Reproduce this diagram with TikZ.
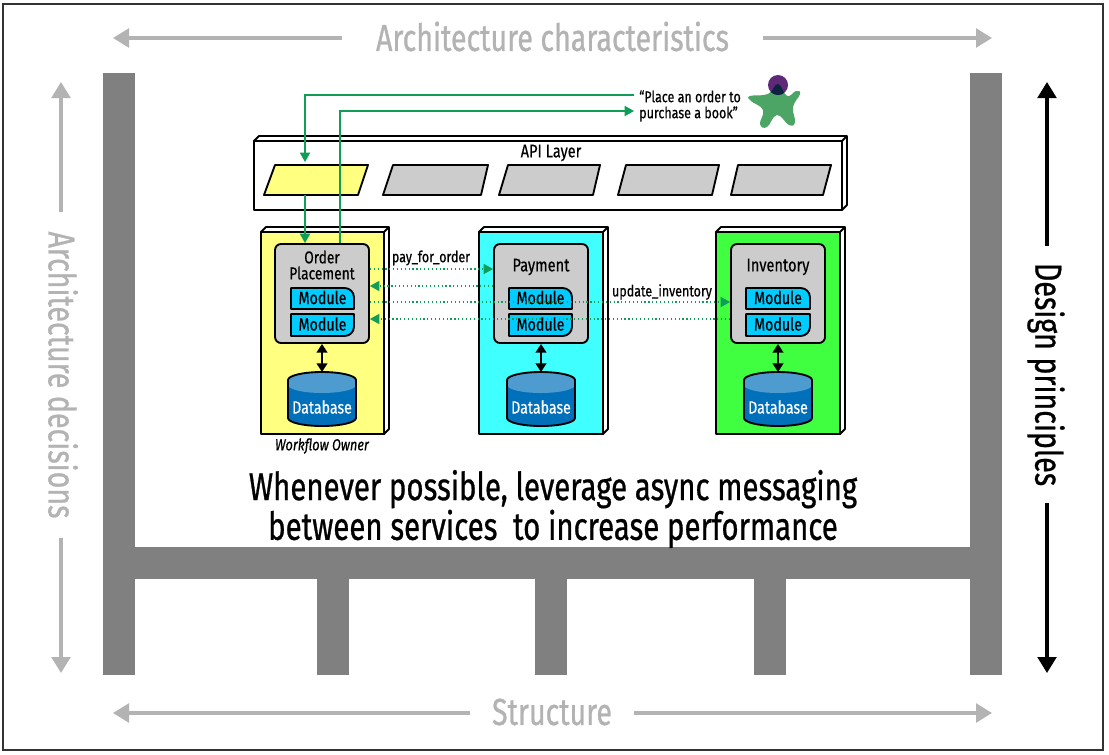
\documentclass[tikz,border=0pt]{standalone}
\usepackage{fontspec}
\usetikzlibrary{arrows.meta}
\setmainfont{Fira Sans}
\newfontfamily\cond[FakeStretch=0.8,FakeBold=0.5]{Fira Sans}
\newfontfamily\condbig[FakeStretch=0.76,FakeBold=0.7]{Fira Sans}
\newfontfamily\condi[FakeStretch=0.8,FakeBold=0.5]{Fira Sans Italic}
\definecolor{cgray}{HTML}{B3B3B3}
\definecolor{cstruct}{HTML}{808080}
\definecolor{cbox}{HTML}{CCCCCC}
\definecolor{cyel}{HTML}{FFFF80}
\definecolor{ccya}{HTML}{40FFFF}
\definecolor{cgre}{HTML}{40FF40}
\definecolor{cmod}{HTML}{00CCFF}
\definecolor{cflow}{HTML}{0F9D58}
\definecolor{cdb}{HTML}{0070BB}
\definecolor{cdbt}{HTML}{4D9BCF}
\definecolor{cperson}{HTML}{4CA564}
\definecolor{chead}{HTML}{5E2A78}
\definecolor{cneck}{HTML}{0B2340}
\tikzset{
  x=.75pt,y=-.75pt,
  edge/.style={draw=black,line width=1.4pt,line join=round},
  bigtxt/.style={inner sep=0pt,font=\condbig\fontsize{28.2}{28}\selectfont,align=center},
  garrow/.style={draw=cgray,line width=2.6pt,-{Triangle[length=12pt,width=14pt]}},
  karrow/.style={draw=black,line width=2.4pt,-{Triangle[length=12pt,width=14pt]}},
  flow/.style={draw=cflow,line width=1.3pt,-{Triangle[length=7pt,width=7.5pt]}},
  dflow/.style={draw=cflow,line width=.9pt,dotted,-{Triangle[length=7pt,width=7.5pt]}},
  dbarrow/.style={draw=black,line width=1.4pt,{Triangle[length=6.5pt,width=8pt]}-{Triangle[length=6.5pt,width=8pt]}},
  txt/.style={inner sep=0pt,font=\cond\fontsize{13.7}{12}\selectfont,align=center},
  small/.style={inner sep=0pt,font=\cond\fontsize{11.7}{12}\selectfont,align=center},
  modtxt/.style={inner sep=0pt,font=\cond\fontsize{13.3}{14}\selectfont},
  inner/.style={draw=black,line width=1.4pt,fill=cbox,rounded corners=4.5pt,minimum width=70.5pt,minimum height=74.25pt,inner sep=0pt},
  ghost/.style={inner sep=0pt,outer sep=0pt},
}
% x1 y1 x2 y2 fill depth
\newcommand\threed[6]{%
  \draw[edge,fill=white] (#1,#2) -- (#1+#6,#2-#6) -- (#3+#6,#2-#6) -- (#3+#6,#4-#6) -- (#3,#4) -- (#3,#2) -- cycle;
  \draw[edge] (#3,#2) -- (#3+#6,#2-#6);
  \draw[edge,fill=#5] (#1,#2) rectangle (#3,#4);
}
% name x1 x2 y1 y2 text
\newcommand\modup[6]{%
  \draw[edge,fill=cmod] (#2,#4) [rounded corners=7pt] -- (#3,#4) [sharp corners] -- (#3,#5) -- (#2,#5) -- cycle;
  \node[modtxt] (#1) at ({(#2+#3)/2},{(#4+#5)/2-1}) {#6};
}
\newcommand\moddown[6]{%
  \draw[edge,fill=cmod] (#2,#4) -- (#3,#4) [rounded corners=7pt] -- (#3,#5) [sharp corners] -- (#2,#5) -- cycle;
  \node[modtxt] (#1) at ({(#2+#3)/2},{(#4+#5)/2-1}) {#6};
}
% name cx
\newcommand\dbase[2]{%
  \fill[cdb] (#2-34,380) -- (#2-34,418) arc[start angle=180,end angle=0,x radius=34,y radius=8] -- (#2+34,380) -- cycle;
  \fill[cdbt] (#2-34,380) arc[start angle=180,end angle=360,x radius=34,y radius=8] -- (#2+34,385) arc[start angle=0,end angle=180,x radius=34,y radius=8] -- cycle;
  \draw[edge] (#2-34,418) -- (#2-34,380) arc[start angle=180,end angle=360,x radius=34,y radius=8] -- (#2+34,418) arc[start angle=0,end angle=180,x radius=34,y radius=8];
  \node[modtxt,text=white] (#1) at (#2,407) {Database};
}
\newcommand\personpath{plot[smooth cycle,tension=.75] coordinates {(778,84) (787,96) (796,91) (800,94) (793,107) (795,122) (789,125) (777,115) (767,127) (760,124) (763,110) (751,101) (750,96) (768,94)}}
\begin{document}
\begin{tikzpicture}
\useasboundingbox (0,0) rectangle (1109,754);
\fill[white] (0,0) rectangle (1109,754);
\draw[black!80,line width=.9pt] (3,4) rectangle (1103,750);
% structure
\fill[cstruct] (103,73) rectangle (135,675);
\fill[cstruct] (970,73) rectangle (1002,675);
\fill[cstruct] (135,547) rectangle (970,579);
\fill[cstruct] (317,579) rectangle (349,675);
\fill[cstruct] (535,579) rectangle (567,675);
\fill[cstruct] (754,579) rectangle (786,675);
% outer labels and arrows
\node[bigtxt,text=cgray,minimum width=315.75pt] (chars) at (552.5,36.5) {Architecture characteristics};
\node[bigtxt,text=cgray,minimum width=123pt] (struct) at (552,712) {Structure};
\node[bigtxt,text=cgray,minimum width=244.5pt,rotate=-90] (decis) at (63,375) {Architecture decisions};
\node[bigtxt,text=black,minimum width=192.75pt,rotate=-90] (princ) at (1046,374.5) {Design principles};
\coordinate (cl) at (113,38); \coordinate (cr) at (992,38);
\coordinate (sl) at (113,713); \coordinate (sr) at (992,713);
\coordinate (dt) at (61,82); \coordinate (db) at (61,673);
\coordinate (pt) at (1047,82); \coordinate (pb) at (1047,673);
\draw[garrow] (chars.west |- cl) -- (cl);
\draw[garrow] (chars.east |- cr) -- (cr);
\draw[garrow] (struct.west |- sl) -- (sl);
\draw[garrow] (struct.east |- sr) -- (sr);
\draw[garrow] (decis.west -| dt) -- (dt);
\draw[garrow] (decis.east -| db) -- (db);
\draw[karrow] (princ.west -| pt) -- (pt);
\draw[karrow] (princ.east -| pb) -- (pb);
% API layer
\threed{254}{141}{842}{210}{white}{5}
\node[txt] (api) at (551,153) {API Layer};
\node[ghost,minimum width=78pt,minimum height=22.5pt] (yel) at (316,180) {};
\draw[edge,fill=cyel] (264,195) -- (358,195) -- (368,165) -- (275,165) -- cycle;
\draw[edge,fill=cbox] (383,195) -- (481,195) -- (488,165) -- (393,165) -- cycle;
\draw[edge,fill=cbox] (499,195) -- (593,195) -- (600,165) -- (508,165) -- cycle;
\draw[edge,fill=cbox] (618,195) -- (712,195) -- (719,165) -- (626,165) -- cycle;
\draw[edge,fill=cbox] (731,195) -- (823,195) -- (831,165) -- (738,165) -- cycle;
% services
\threed{261}{232}{384}{434}{cyel}{5}
\threed{479}{232}{603}{434}{ccya}{5}
\threed{716}{232}{840}{434}{cgre}{5}
\node[inner] (oin) at (322,293.5) {};
\node[inner] (pin) at (541,293.5) {};
\node[inner] (iin) at (778,293.5) {};
\node[txt,font=\cond\fontsize{12.9}{12}\selectfont] (ol) at (322,265) {Order\\Placement};
\node[txt] (pl) at (541,267) {Payment};
\node[txt] (il) at (778,267) {Inventory};
\modup{m1}{291}{354}{288}{309}{Module}
\moddown{m2}{291}{354}{314}{336}{Module}
\modup{m3}{509}{572}{288}{309}{Module}
\moddown{m4}{509}{572}{314}{336}{Module}
\modup{m5}{746}{810}{288}{309}{Module}
\moddown{m6}{746}{810}{314}{336}{Module}
\dbase{d1}{322}
\dbase{d2}{541}
\dbase{d3}{778}
\coordinate (t1) at (322,372);\coordinate (t2) at (541,372);\coordinate (t3) at (778,372);
\draw[dbarrow] (oin.south) -- (t1);
\draw[dbarrow] (pin.south) -- (t2);
\draw[dbarrow] (iin.south) -- (t3);
\node[small,font=\condi\fontsize{12}{12}\selectfont] (wf) at (322,446) {Workflow Owner};
% flows
\coordinate (q1) at (634,95); \coordinate (q2) at (634,111);
\coordinate (xa) at (305,162); \coordinate (xb) at (340,0);
\draw[flow] (q1) -| (xa);
\draw[flow] (yel.south -| xa) -- (oin.north -| xa);
\draw[flow] (oin.north -| xb) |- (q2);
\coordinate (r1) at (0,269); \coordinate (r2) at (0,286); \coordinate (r3) at (0,302); \coordinate (r4) at (0,319);
\draw[dflow] (oin.east |- r1) -- (pin.west |- r1);
\draw[dflow] (pin.west |- r2) -- (oin.east |- r2);
\draw[dflow] (oin.east |- r3) -- (iin.west |- r3);
\draw[dflow] (iin.west |- r4) -- (oin.east |- r4);
\node[small] (pay) at (431,258) {pay\_for\_order};
\node[small] (upd) at (662,292) {update\_inventory};
\node[small,align=left,anchor=west] (quote) at (639,106) {“Place an order to\\purchase a book”};
% person
\fill[cperson] \personpath;
\fill[chead] (778,85) circle[radius=10];
\begin{scope}
\clip (778,85) circle[radius=10];
\fill[cneck] \personpath;
\end{scope}
% message
\node[bigtxt,text=black,font=\condbig\fontsize{29}{25}\selectfont] (msg) at (553,509) {Whenever possible, leverage async messaging\\between services\ \ to increase performance};
\end{tikzpicture}
\end{document}
